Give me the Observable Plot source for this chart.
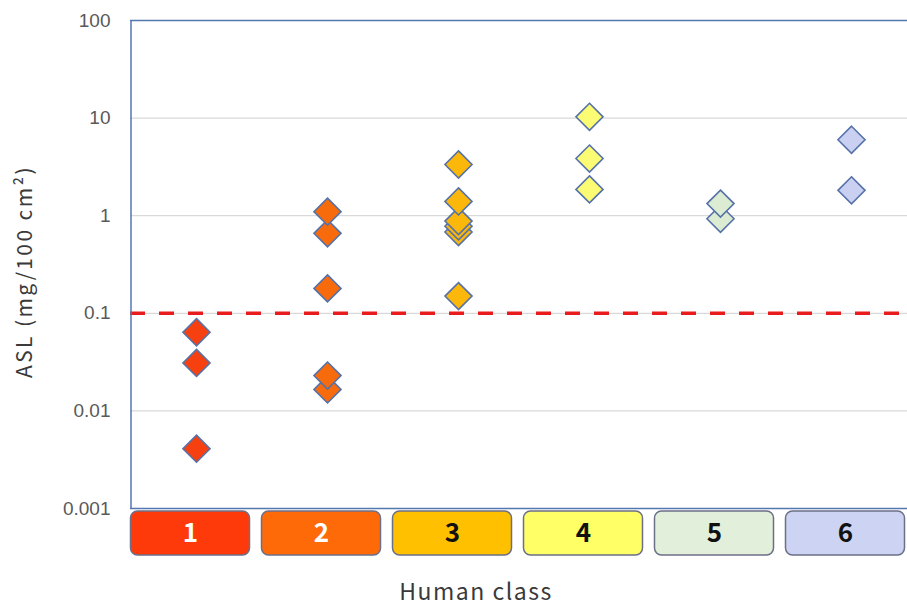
<!DOCTYPE html>
<html>
<head>
<meta charset="utf-8">
<script src="https://cdn.jsdelivr.net/npm/d3@7"></script>
<script src="https://cdn.jsdelivr.net/npm/@observablehq/plot@0.6"></script>
<style>
  html, body { margin: 0; padding: 0; background: #ffffff; overflow: hidden; }
  #chart { width: 907px; }
  #chart svg { display: block; }
  #chart svg.main-plot g[aria-label="text"] text { letter-spacing: 2.4px; }
  #chart svg.class-bar g.x-title text { letter-spacing: 1.5px; }
</style>
</head>
<body>
<div id="chart"></div>
<script>
// Human class categories and their colours
const classes = [1, 2, 3, 4, 5, 6];
const classLabels = ["1", "2", "3", "4", "5", "6"];
const markerFills = ["#f6400f", "#f76b0c", "#fbb80a", "#fbfb74", "#dcecd2", "#c9d0f1"];
const boxFills = ["#ff3a0a", "#ff6a08", "#ffc000", "#ffff66", "#e2efda", "#cdd4f3"];
const boxTextColors = ["#ffffff", "#ffffff", "#111111", "#111111", "#111111", "#111111"];

// ASL measurements (mg/100 cm²) per human class
const aslClass1 = [0.064, 0.031, 0.0041];
const aslClass2 = [1.1, 0.66, 0.18, 0.023, 0.0166];
const aslClass3 = [3.35, 1.4, 0.88, 0.78, 0.68, 0.15];
const aslClass4 = [10.3, 3.85, 1.86];
const aslClass5 = [1.33, 0.93];
const aslClass6 = [6.0, 1.82];

// Reference threshold and y axis ticks
const threshold = 0.1;
const yTicks = [0.001, 0.01, 0.1, 1, 10, 100];
const yLabel = "ASL (mg/100 cm²)";
const xLabel = "Human class";

const seriesValues = [aslClass1, aslClass2, aslClass3, aslClass4, aslClass5, aslClass6];
// Smaller values first so higher diamonds sit on top where they overlap
const points = seriesValues.flatMap((vals, i) =>
  [...vals].sort((a, b) => a - b).map(v => ({cls: classes[i], asl: v, fill: markerFills[i]}))
);
const boxes = classes.map((c, i) => ({cls: c, label: classLabels[i], fill: boxFills[i], color: boxTextColors[i]}));

const xScale = {type: "linear", domain: [0.5, 6.5], range: [130.5, 916.5]};
const fontFamily = "'Liberation Sans', 'Noto Sans', sans-serif";
const cjkFont = "'Noto Sans CJK JP', 'Noto Sans', sans-serif";

const main = Plot.plot({
  width: 907,
  height: 510,
  marginLeft: 130,
  marginRight: 0,
  marginTop: 20,
  marginBottom: 2,
  className: "main-plot",
  style: {fontFamily, background: "#ffffff", overflow: "visible"},
  x: {...xScale, axis: null},
  y: {type: "log", domain: [0.001, 100], range: [508, 20], axis: null},
  marks: [
    Plot.ruleY(yTicks.slice(1, -1), {stroke: "#d9d9d9", strokeWidth: 1.3}),
    Plot.ruleY([threshold], {stroke: "#e81c1c", strokeWidth: 3.5, strokeDasharray: "15,14"}),
    Plot.ruleX([0.5], {stroke: "#5577b0", strokeWidth: 1.5}),
    Plot.ruleY([100, 0.001], {stroke: "#5577b0", strokeWidth: 1.5}),
    Plot.axisY({
      ticks: yTicks,
      tickFormat: d => String(d),
      tickSize: 0,
      tickPadding: 20,
      fontSize: 19,
      color: "#595959",
      label: null
    }),
    Plot.text([yLabel], {
      frameAnchor: "left",
      textAnchor: "middle",
      rotate: -90,
      dx: -105,
      dy: 7,
      fontSize: 21,
      fontFamily: cjkFont,
      fill: "#3a3a3a",
      text: d => d
    }),
    Plot.dot(points, {
      x: "cls",
      y: "asl",
      symbol: "diamond2",
      r: 12.2,
      fill: "fill",
      stroke: "#5672a8",
      strokeWidth: 1.6
    })
  ]
});

// Coloured class boxes under the plot, with the x axis title below them
const classBar = Plot.plot({
  width: 907,
  height: 96,
  marginLeft: 130,
  marginRight: 0,
  marginTop: 1,
  marginBottom: 51,
  className: "class-bar",
  style: {fontFamily, background: "#ffffff", overflow: "visible"},
  x: {...xScale, axis: null},
  marks: [
    Plot.rect(boxes, {
      x1: d => d.cls - 0.5,
      x2: d => d.cls + 0.5,
      insetLeft: 0,
      insetRight: 12,
      rx: 7,
      fill: "fill",
      stroke: "#6b6f88",
      strokeWidth: 1.5
    }),
    Plot.text(boxes, {
      x: "cls",
      frameAnchor: "middle",
      dx: -6,
      text: "label",
      fill: d => d.color,
      fontSize: 26,
      fontWeight: "bold",
      fontFamily: cjkFont
    }),
    Plot.text([xLabel], {
      frameAnchor: "bottom",
      lineAnchor: "middle",
      dx: -43,
      dy: 37,
      fontSize: 23,
      fontFamily: cjkFont,
      fill: "#3a3a3a",
      className: "x-title",
      text: d => d
    })
  ]
});

const chart = document.getElementById("chart");
chart.appendChild(main);
chart.appendChild(classBar);
</script>
</body>
</html>
